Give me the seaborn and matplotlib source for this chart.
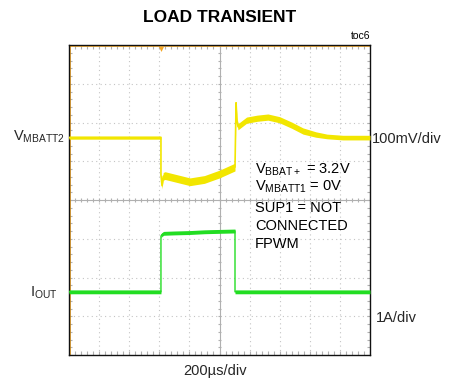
import matplotlib
matplotlib.use("Agg")
import matplotlib.pyplot as plt
import numpy as np
import pandas as pd
import seaborn as sns

sns.set_theme(style="white")
plt.rcParams["font.family"] = ["Liberation Sans", "DejaVu Sans"]

# Scope settings
US_PER_DIV = 200
N_DIV_X, N_DIV_Y = 10, 8
MV_PER_DIV = 100
A_PER_DIV = 1
V_REF_DIV = 5.61     # screen level of the V_MBATT2 DC value
I_REF_DIV = 1.63     # screen level of the I_OUT baseline

# V_MBATT2: AC deviation (mV) and envelope half-width (mV)
v_time = [0, 611, 611, 618, 626, 638, 700, 804, 900, 1000, 1103, 1103, 1110, 1116, 1123,
          1180, 1250, 1322, 1400, 1480, 1555, 1640, 1714, 1820, 2000]
v_dev = [0, 0, -96, -124, -100, -98, -104, -114, -108, -94, -76, -76, 90, 45, 28,
         45, 50, 53, 46, 32, 17, 8, 3, 0, 0]
v_half = [4, 4, 8, 8, 10, 10, 10, 10, 10, 10, 10, 10, 4, 8, 8,
          8, 8, 8, 8, 8, 8, 7, 6, 6, 6]

# I_OUT: load current step (A) and envelope half-width (A)
i_time = [0, 611, 611, 618, 630, 700, 800, 900, 1000, 1103, 1103, 2000]
i_amp = [0, 0, 1.44, 1.48, 1.51, 1.52, 1.53, 1.55, 1.56, 1.57, 0, 0]
i_half = [0.05, 0.05, 0.05, 0.05, 0.05, 0.05, 0.05, 0.05, 0.05, 0.05, 0.05, 0.05]

annotation_lines = [r"V$_{\mathregular{BBAT+}}$ = 3.2V",
                    r"V$_{\mathregular{MBATT1}}$ = 0V",
                    "SUP1 = NOT",
                    "CONNECTED",
                    "FPWM"]

W, H = 449, 381
fig = plt.figure(figsize=(W / 100, H / 100), dpi=100)
fig.patch.set_facecolor("white")
x0, x1, y0, y1 = 69, 370, 45, 355
ax = fig.add_axes([x0 / W, 1 - y1 / H, (x1 - x0) / W, (y1 - y0) / H])
ax.set_facecolor("white")

t_max = US_PER_DIV * N_DIV_X
ax.set_xlim(0, t_max)
ax.set_ylim(0, N_DIV_Y)

# graticule: dotted division lines, solid centre axes with fine ticks
grid_c = "#c4c4c4"
for k in range(1, N_DIV_X):
    if k != N_DIV_X // 2:
        ax.axvline(k * US_PER_DIV, color=grid_c, lw=0.8, ls=(0, (1, 3)), zorder=1)
for k in range(1, N_DIV_Y):
    if k != N_DIV_Y // 2:
        ax.axhline(k, color=grid_c, lw=0.8, ls=(0, (1, 3)), zorder=1)
ax.axvline(t_max / 2, color="#b0b0b0", lw=0.8, zorder=1)
ax.axhline(N_DIV_Y / 2, color="#b0b0b0", lw=0.8, zorder=1)
sub_x = np.arange(0, t_max + 1, US_PER_DIV / 5)
sub_y = np.arange(0, N_DIV_Y + 0.01, 0.2)
tx = 0.05   # tick half-length in y-divisions
ty = 10     # tick half-length in microseconds
ax.vlines(sub_x, N_DIV_Y / 2 - tx, N_DIV_Y / 2 + tx, color="#b0b0b0", lw=0.8, zorder=1)
ax.hlines(sub_y, t_max / 2 - ty, t_max / 2 + ty, color="#b0b0b0", lw=0.8, zorder=1)
ax.vlines(sub_x, N_DIV_Y - 2 * tx, N_DIV_Y, color="#b0b0b0", lw=0.8, zorder=1)
ax.vlines(sub_x, 0, 2 * tx, color="#b0b0b0", lw=0.8, zorder=1)
ax.hlines(sub_y, 0, 2 * ty, color="#b0b0b0", lw=0.8, zorder=1)
ax.hlines(sub_y, t_max - 2 * ty, t_max, color="#b0b0b0", lw=0.8, zorder=1)

# screen frame accents and trigger marker
ax.axvline(6, color="#f5a623", lw=1.2, zorder=2)
ax.axhline(N_DIV_Y - 0.03, color="#f5a623", lw=1.2, zorder=2)
ax.plot([611], [N_DIV_Y - 0.1], marker="v", color="#f5a623", ms=3.5, mew=0, zorder=3)

# traces
vdf = pd.DataFrame({"t": v_time,
                    "y": V_REF_DIV + np.array(v_dev) / MV_PER_DIV,
                    "h": np.array(v_half) / MV_PER_DIV})
idf = pd.DataFrame({"t": i_time,
                    "y": I_REF_DIV + np.array(i_amp) / A_PER_DIV,
                    "h": np.array(i_half) / A_PER_DIV})

yellow = "#f2e600"
green = "#22dd22"
ax.fill_between(vdf["t"], vdf["y"] - vdf["h"], vdf["y"] + vdf["h"], color=yellow,
                lw=0, zorder=4)
sns.lineplot(data=vdf, x="t", y="y", estimator=None, sort=False, color=yellow, lw=1.2,
             ax=ax, zorder=5)
ax.fill_between(idf["t"], idf["y"] - idf["h"], idf["y"] + idf["h"], color=green,
                lw=0, zorder=4)
sns.lineplot(data=idf, x="t", y="y", estimator=None, sort=False, color=green, lw=1.0,
             ax=ax, zorder=5)

ax.set_xlabel("")
ax.set_ylabel("")
ax.set_xticks([])
ax.set_yticks([])
for s in ax.spines.values():
    s.set_color("#111111")
    s.set_linewidth(1.0)


def px(x, y):
    return x / W, 1 - y / H


fs = 10.5
fig.text(*px(220, 18), "LOAD TRANSIENT", ha="center", va="center", fontsize=12.5,
         fontweight="bold", color="black")
fig.text(*px(370, 36), "toc6", ha="right", va="center", fontsize=7.5, color="black")
fig.text(*px(65, 137), r"V$_{\mathregular{MBATT2}}$", ha="right", va="center", fontsize=fs)
fig.text(*px(58, 293), r"I$_{\mathregular{OUT}}$", ha="right", va="center", fontsize=fs)
fig.text(*px(372, 139), "100mV/div", ha="left", va="center", fontsize=fs)
fig.text(*px(376, 318), "1A/div", ha="left", va="center", fontsize=fs)
fig.text(*px(215, 371), "200µs/div", ha="center", va="center", fontsize=fs)

for line, yy in zip(annotation_lines, [170, 187, 208, 226, 244]):
    fig.text(*px(255, yy), line, ha="left", va="center", fontsize=fs, color="black")

fig.savefig("out.png", dpi=100)
